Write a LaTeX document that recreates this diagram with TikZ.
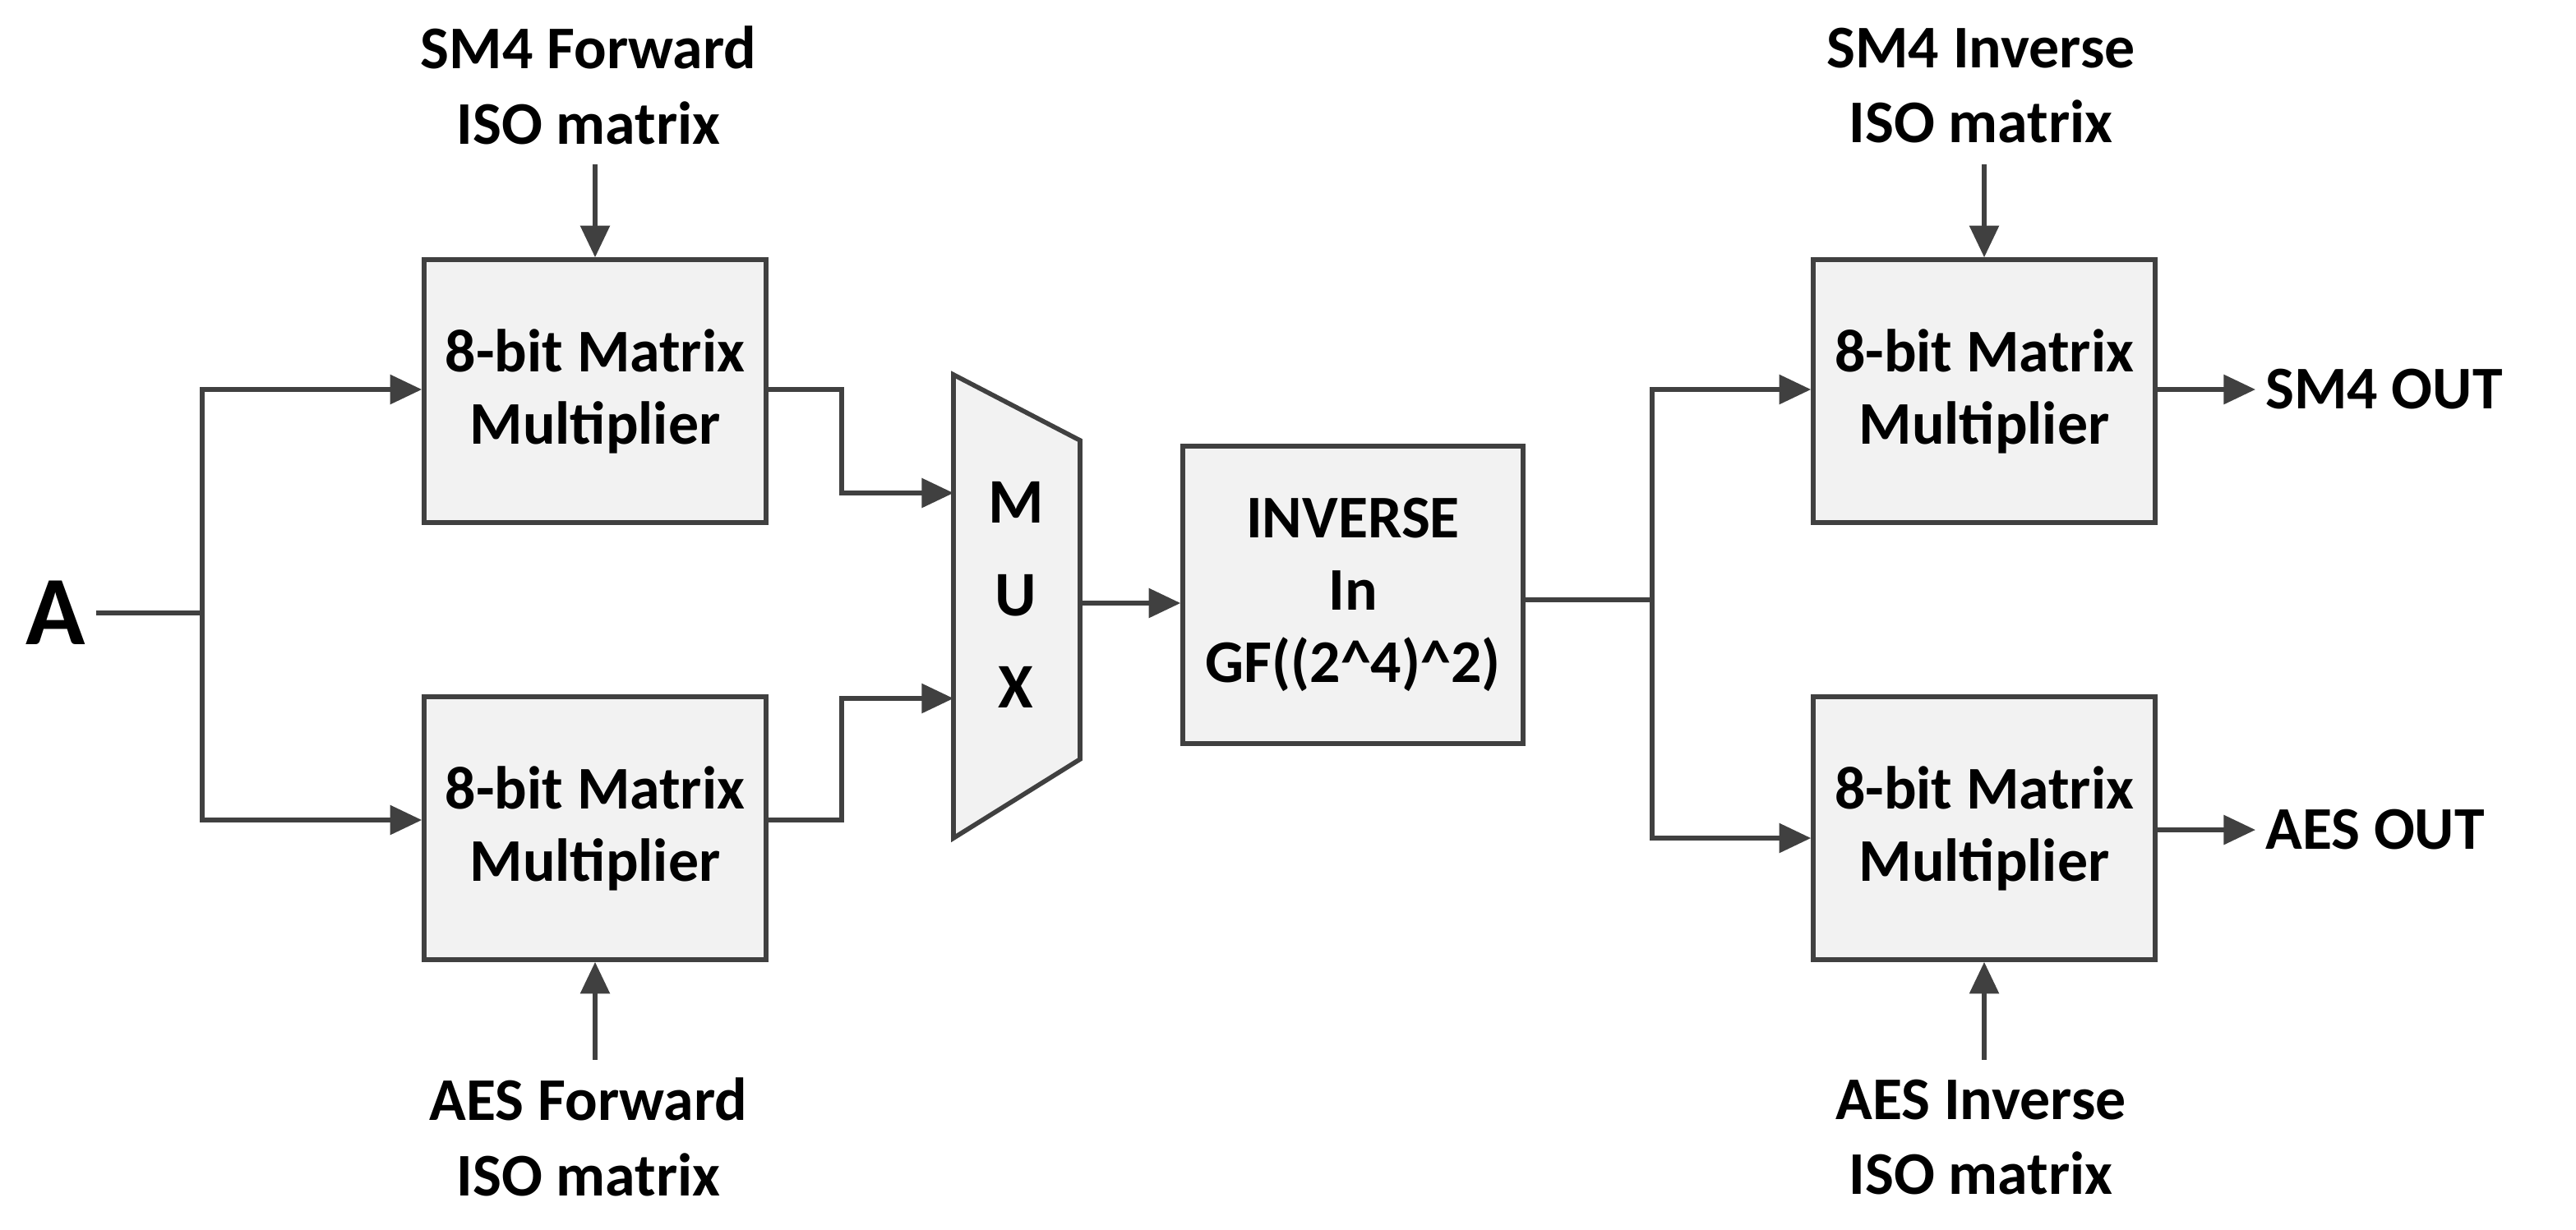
\documentclass[tikz,border=0pt]{standalone}
\usepackage{fontspec}
\setmainfont{Carlito}
\usetikzlibrary{arrows.meta}
\definecolor{linegray}{HTML}{404040}
\definecolor{boxgray}{HTML}{F2F2F2}
\tikzset{
  block/.style={draw=linegray, fill=boxgray, line width=1.6pt, minimum width=4.16cm,
    minimum height=3.2cm, align=center, font=\fontsize{21}{25}\selectfont\bfseries, inner sep=0pt},
  lbl/.style={align=center, font=\fontsize{21}{26}\selectfont\bfseries, text=black},
  wire/.style={linegray, line width=1.6pt},
  arr/.style={wire, -{Triangle[length=11pt, width=10pt]}}
}
\begin{document}
\begin{tikzpicture}[x=0.02cm, y=-0.02cm]
    \useasboundingbox (0,0) rectangle (1567,748);

    % blocks
    \node[block] (fwdsm) at (362,238) {8-bit Matrix\\Multiplier};
    \node[block] (fwdaes) at (362,504) {8-bit Matrix\\Multiplier};
    \node[block, minimum width=4.14cm, minimum height=3.62cm] (inv) at (823,362) {INVERSE\\In\\GF((2\^{}4)\^{}2)};
    \node[block] (invsm) at (1207,238) {8-bit Matrix\\Multiplier};
    \node[block] (invaes) at (1207,504) {8-bit Matrix\\Multiplier};

    % mux
    \draw[wire, fill=boxgray] (580,228) -- (657,268) -- (657,462) -- (580,510) -- cycle;
    \node[lbl, font=\fontsize{22}{32}\selectfont\bfseries] (mux) at (618,362) {M\\U\\X};
    \coordinate (muxa) at (580,300);
    \coordinate (muxb) at (580,425);
    \coordinate (muxo) at (657,367);

    % labels
    \node[font=\fontsize{34}{40}\selectfont\bfseries] (a) at (34,373) {A};
    \node[lbl] (sf) at (358,52) {SM4 Forward\\ISO matrix};
    \node[lbl] (af) at (358,692) {AES Forward\\ISO matrix};
    \node[lbl] (si) at (1205,52) {SM4 Inverse\\ISO matrix};
    \node[lbl] (ai) at (1205,692) {AES Inverse\\ISO matrix};
    \node[lbl, anchor=west] (smout) at (1372,237) {SM4 OUT};
    \node[lbl, anchor=west] (aesout) at (1372,505) {AES OUT};

    % input split
    \coordinate (split) at (123,373);
    \draw[wire] (a.east) -- (split);
    \draw[arr] (split) |- (fwdsm.west |- 0,237);
    \draw[arr] (split) |- (fwdaes.west |- 0,499);

    % into mux
    \draw[arr] (fwdsm.east |- 0,237) -- (512,237) |- (muxa);
    \draw[arr] (fwdaes.east |- 0,499) -- (512,499) |- (muxb);
    \draw[arr] (muxo) -- (inv.west |- muxo);

    % output split
    \coordinate (split2) at (1005,365);
    \draw[wire] (inv.east |- split2) -- (split2);
    \draw[arr] (split2) |- (invsm.west |- 0,237);
    \draw[arr] (split2) |- (invaes.west |- 0,510);
    \draw[arr] (invsm.east |- 0,237) -- (smout.west);
    \draw[arr] (invaes.east |- 0,505) -- (aesout.west);

    % matrix inputs
    \draw[arr] (362,100) -- (fwdsm.north);
    \draw[arr] (362,645) -- (fwdaes.south);
    \draw[arr] (1207,100) -- (invsm.north);
    \draw[arr] (1207,645) -- (invaes.south);
\end{tikzpicture}
\end{document}
